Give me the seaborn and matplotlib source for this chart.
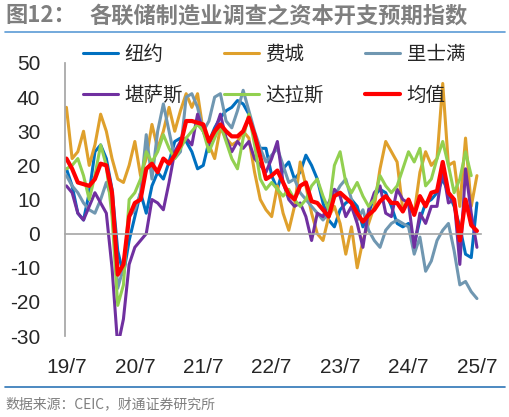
import numpy as np
import pandas as pd
import matplotlib
matplotlib.use('Agg')
import matplotlib.pyplot as plt
from matplotlib.lines import Line2D
import seaborn as sns

# monthly, 2019/7 .. 2025/7
months = pd.period_range('2019-07', '2025-07', freq='M')
tick_labels = ['19/7', '20/7', '21/7', '22/7', '23/7', '24/7', '25/7']

new_york = [19, 14, 6, 4, 12, 24, 26, 22, 13, -5, -12, -2, 5, 12, 6, 14, 18, 16, 21, 27,
            28, 27, 24, 19, 20, 27, 31, 34, 36, 37, 39, 38, 35, 28, 25, 25, 17, 13, 19, 21,
            16, 18, 23, 20, 16, 9, 4, 2, 7, 9, 10, 8, 2, 6, 11, 13, 12, 8, 3, 2,
            3, -3, 4, 9, 10, 12, 16, 12, 8, 2, -6, -7, 9]
philadelphia = [37, 22, 24, 30, 20, 26, 35, 30, 22, 16, 15, 20, 27, 17, 22, 32, 25, 30, 37, 30,
                36, 41, 37, 41, 30, 26, 22, 31, 28, 26, 27, 30, 28, 18, 10, 7, 5, 14, 6, 1,
                8, 21, 14, 6, 0, -2, 5, 8, 3, -6, 2, -10, -2, 3, 8, 19, 27, 24, 21, 7,
                10, 6, 18, 24, 20, 22, 44, 20, 21, 8, 28, 8, 17]
richmond = [17, 14, 12, 9, 7, 6, 10, 15, 10, -16, -10, 5, 7, 12, 29, 16, 30, 38, 30, 22,
            24, 40, 41, 37, 30, 33, 40, 41, 33, 31, 36, 42, 36, 30, 25, 21, 23, 25, 20, 15,
            16, 12, 10, 8, 6, 4, 6, 11, 14, 16, 10, 4, 7, 1, -2, -4, 1, 3, 4, 3,
            2, -6, -1, -11, -8, -2, 1, 3, -5, -15, -14, -17, -19]
kansas_city = [14, 12, 6, 4, 8, 12, 9, 6, -10, -33, -25, -9, -4, -2, 0, 10, 9, 7, 15, 24,
               27, 28, 26, 35, 30, 26, 30, 35, 28, 24, 27, 25, 27, 22, 20, 18, 22, 27, 15, 10,
               8, 9, 5, -2, 6, 5, 9, 13, 11, 5, 8, 3, -4, 7, 12, 14, 6, 5, 13, 10,
               9, -4, 6, 3, 8, 8, 19, 9, 10, -9, 19, 6, -4]
dallas = [19, 20, 22, 17, 10, 17, 26, 20, 5, -21, -15, 10, 12, 16, 24, 21, 24, 29, 25, 22,
          25, 28, 30, 32, 30, 24, 28, 32, 27, 22, 19, 28, 35, 26, 16, 13, 15, 13, 11, 13,
          10, 8, 10, 14, 16, 11, 7, 20, 24, 15, 12, 15, 11, 8, 10, 17, 14, 12, 14, 19,
          24, 21, 25, 14, 16, 22, 27, 20, 12, 16, 24, 17, np.nan]
mean_value = [22, 19, 15, 14.5, 14, 16, 20.5, 20, 12, -12, -9, 5, 9, 10, 19, 20.5, 18, 22, 20.5, 23,
              26, 33, 33, 32.5, 32, 27, 30, 32, 30, 28.5, 28.5, 30, 34, 29, 22.5, 16, 17, 18.5, 15, 11.5,
              10, 14, 15, 9.5, 9, 7, 5, 11, 12, 10.5, 9, 6, 3.5, 5.5, 7, 9.5, 11, 9, 9, 6.5,
              10, 5.5, 11, 8, 12, 12.5, 21, 12, 10, -2, 10, 2.5, 0.8]

series_names = ['纽约', '费城', '里士满', '堪萨斯', '达拉斯', '均值']
colors = ['#0070C0', '#DFA02C', '#7097B1', '#7030A0', '#92D050', '#FF0000']
widths = [2.2, 2.2, 2.2, 2.2, 2.2, 3.0]

x = np.arange(len(months))
data = {'纽约': new_york, '费城': philadelphia, '里士满': richmond,
        '堪萨斯': kansas_city, '达拉斯': dallas, '均值': mean_value}

sns.set_theme(style='white')
cjk = ['Noto Sans CJK SC', 'DejaVu Sans']
plt.rcParams['font.family'] = ['Liberation Sans', 'Noto Sans CJK SC', 'DejaVu Sans']
plt.rcParams['axes.unicode_minus'] = False

fig = plt.figure(figsize=(5.1, 4.17), dpi=100)
ax = fig.add_axes([0.128, 0.194, 0.815, 0.655])

for name, c, lw in zip(series_names, colors, widths):
    df = pd.DataFrame({'x': x, 'y': data[name]})
    sns.lineplot(data=df, x='x', y='y', color=c, linewidth=lw, ax=ax, label=name,
                 solid_joinstyle='round', solid_capstyle='round')

ax.set_xlim(-0.2, 72.7)
ax.set_ylim(-30, 50)
ax.set_yticks(range(-30, 51, 10))
ax.set_xlabel('')
ax.set_ylabel('')

axis_grey = '#A6A6A6'
for s in ['top', 'right']:
    ax.spines[s].set_visible(False)
ax.spines['left'].set_color(axis_grey)
ax.spines['bottom'].set_color(axis_grey)
ax.spines['bottom'].set_position(('data', 0))
ax.spines['bottom'].set_linewidth(1.2)

year_ticks = x[::12]
ax.set_xticks(year_ticks)
ax.tick_params(axis='x', direction='out', length=5, color=axis_grey, labelbottom=False)
ax.tick_params(axis='y', direction='out', length=4, color=axis_grey, labelsize=15, pad=14)

sec = ax.secondary_xaxis('bottom')
sec.set_xticks(year_ticks)
sec.set_xticklabels(tick_labels)
sec.tick_params(length=0, labelsize=15, pad=16)
sec.spines['bottom'].set_visible(False)

# legend is filled column by column, reorder so it reads row by row
handles, labels = ax.get_legend_handles_labels()
order = [0, 3, 1, 4, 2, 5]
ax.legend([handles[i] for i in order], [labels[i] for i in order], ncol=3, frameon=False,
          loc='upper left', bbox_to_anchor=(0.162, 0.895), bbox_transform=fig.transFigure,
          prop={'family': cjk, 'size': 14}, handlelength=1.8, handletextpad=0.35,
          columnspacing=2.1, labelspacing=1.05, borderpad=0, borderaxespad=0)

fig.text(0.01, 0.962, '图12：', fontsize=16, fontweight='bold', color='#7F7F7F',
         family=cjk, va='center')
fig.text(0.176, 0.962, '各联储制造业调查之资本开支预期指数', fontsize=16, fontweight='bold',
         color='#7F7F7F', family=cjk, va='center')
fig.add_artist(Line2D([0.01, 0.99], [0.923, 0.923], color='#5B9BD5', lw=1.2))
fig.add_artist(Line2D([0.01, 0.99], [0.072, 0.072], color='#2E75B6', lw=1.2))
fig.text(0.01, 0.03, '数据来源：CEIC，财通证券研究所', fontsize=10, color='#7F7F7F',
         family=cjk, va='center')

fig.savefig('out.png', dpi=100)
